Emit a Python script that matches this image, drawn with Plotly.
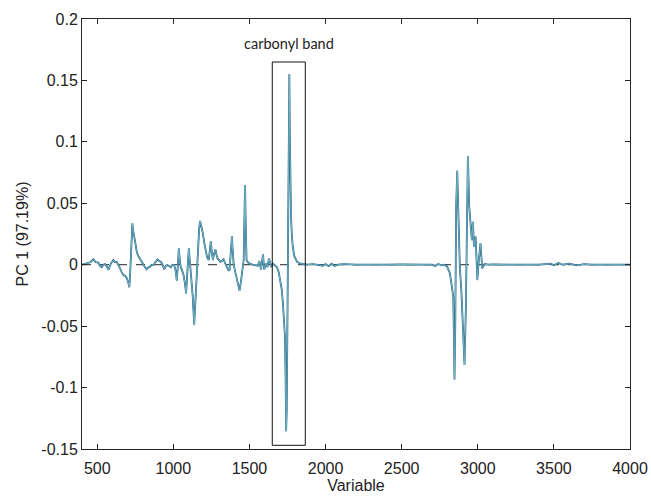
import plotly.graph_objects as go

wavenumber = [400, 431, 455, 475, 490, 507, 518, 529, 540, 551, 562, 573, 590, 606, 617, 628, 640, 650, 661, 672, 683, 694, 703, 711, 716, 720, 726, 731, 736, 742, 750, 760, 770, 782, 792, 803, 814, 825, 836, 847, 858, 869, 882, 896, 907, 918, 929, 940, 950, 961, 972, 983, 994, 1005, 1014, 1023, 1030, 1036, 1042, 1049, 1058, 1067, 1076, 1084, 1093, 1102, 1109, 1117, 1127, 1137, 1143, 1150, 1157, 1163, 1170, 1176, 1185, 1194, 1203, 1211, 1222, 1233, 1240, 1246, 1253, 1260, 1268, 1277, 1284, 1290, 1299, 1308, 1319, 1330, 1341, 1352, 1360, 1369, 1377, 1385, 1390, 1396, 1405, 1413, 1424, 1435, 1444, 1453, 1458, 1462, 1466, 1471, 1476, 1481, 1490, 1505, 1520, 1538, 1555, 1565, 1576, 1589, 1597, 1608, 1618, 1628, 1637, 1645, 1654, 1665, 1681, 1692, 1703, 1712, 1720, 1729, 1734, 1738, 1741, 1745, 1749, 1752, 1756, 1759, 1762, 1765, 1768, 1773, 1778, 1785, 1795, 1812, 1830, 1856, 1880, 1920, 1950, 1980, 2000, 2020, 2040, 2060, 2080, 2120, 2200, 2300, 2400, 2500, 2600, 2650, 2700, 2720, 2740, 2760, 2780, 2799, 2817, 2832, 2839, 2843, 2847, 2852, 2858, 2865, 2872, 2882, 2893, 2904, 2913, 2922, 2931, 2935, 2944, 2953, 2961, 2968, 2975, 2986, 2997, 3007, 3018, 3029, 3045, 3070, 3100, 3200, 3300, 3400, 3480, 3500, 3530, 3560, 3600, 3650, 3700, 3750, 3850, 4000]
pc1 = [0.000, 0.001, 0.002, 0.0044, 0.002, 0.0017, -0.001, -0.002, 0.000, 0.0006, -0.001, -0.0043, 0.001, 0.0038, 0.002, 0.0024, 0.000, -0.003, -0.006, -0.0084, -0.009, -0.011, -0.014, -0.0184, -0.008, 0.0008, 0.020, 0.0337, 0.028, 0.0234, 0.016, 0.0106, 0.007, 0.0044, 0.002, 0.0008, -0.002, -0.0038, -0.002, -0.0016, 0.000, -0.0003, 0.002, 0.0044, 0.003, 0.0024, 0.000, -0.0038, -0.001, -0.0003, -0.001, -0.002, 0.000, -0.0003, -0.004, -0.0130, 0.000, 0.0133, 0.004, -0.002, -0.005, -0.0084, -0.015, -0.0233, -0.004, 0.0133, 0.002, -0.0097, -0.025, -0.0491, -0.035, -0.0206, 0.000, 0.0185, 0.030, 0.0356, 0.031, 0.0255, 0.018, 0.0114, 0.006, 0.0038, 0.012, 0.0193, 0.010, 0.0038, 0.009, 0.0125, 0.008, 0.0052, 0.004, 0.0024, 0.003, 0.0044, 0.001, -0.003, -0.004, -0.0049, 0.008, 0.0234, 0.012, 0.0008, -0.005, -0.0097, -0.015, -0.0211, -0.014, -0.0070, 0.000, 0.0038, 0.030, 0.0649, 0.030, 0.0038, 0.002, 0.0006, 0.000, -0.0003, -0.0008, 0.003, -0.004, 0.0084, -0.004, 0.001, -0.002, 0.005, 0.002, -0.002, 0.001, 0.000, -0.002, -0.006, -0.0125, -0.020, -0.0314, -0.0477, -0.060, -0.0966, -0.1355, -0.118, -0.040, 0.044, 0.045, 0.100, 0.155, 0.107, 0.046, 0.040, 0.025, 0.014, 0.007, 0.0025, 0.001, 0.0005, 0.000, 0.0005, 0.000, -0.0008, 0.0005, -0.0012, 0.0008, -0.001, 0.000, 0.0005, 0.000, 0.0003, 0.000, 0.0002, -0.0003, 0.000, 0.000, -0.001, 0.0006, -0.0005, 0.000, -0.0016, -0.007, -0.0206, -0.026, -0.056, -0.0935, -0.050, 0.0472, 0.0765, 0.0445, -0.0016, -0.0233, -0.0557, -0.0816, -0.034, 0.0744, 0.0885, 0.0472, 0.031, 0.020, 0.035, 0.0147, 0.023, -0.0125, 0.0038, 0.0174, -0.003, 0.0006, 0.000, 0.0003, 0.000, -0.0003, 0.000, 0.0008, -0.0005, 0.0015, 0.000, 0.0008, -0.0006, 0.0004, 0.000, 0.000, 0.000]

x_range = [400, 4000]
y_range = [-0.15, 0.2]
x_ticks = [500, 1000, 1500, 2000, 2500, 3000, 3500, 4000]
y_ticks = [-0.15, -0.1, -0.05, 0, 0.05, 0.1, 0.15, 0.2]
y_ticklabels = ["-0.15", "-0.1", "-0.05", "0", "0.05", "0.1", "0.15", "0.2"]
band_box = {"x0": 1650, "x1": 1867, "y0": -0.147, "y1": 0.165}
band_label = "carbonyl band"

fig = go.Figure()
fig.add_trace(go.Scatter(x=x_range, y=[0, 0], mode="lines",
                         line=dict(color="#222222", width=1, dash="dash"),
                         showlegend=False, hoverinfo="skip"))
fig.add_trace(go.Scatter(x=wavenumber, y=pc1, mode="lines",
                         line=dict(color="#1f5f85", width=1.8),
                         showlegend=False))
fig.add_trace(go.Scatter(x=wavenumber, y=pc1, mode="lines",
                         line=dict(color="#74b3c1", width=1.0),
                         showlegend=False))

fig.add_shape(type="rect", xref="x", yref="y",
              x0=band_box["x0"], x1=band_box["x1"], y0=band_box["y0"], y1=band_box["y1"],
              line=dict(color="#111111", width=1))
fig.add_annotation(x=(band_box["x0"] + band_box["x1"]) / 2, y=band_box["y1"],
                   xref="x", yref="y", text=band_label, showarrow=False,
                   yanchor="bottom", yshift=8,
                   font=dict(family="Lato", size=14.5, color="#222222"))

axis_common = dict(showline=True, linecolor="#262626", linewidth=1, mirror="allticks",
                   ticks="inside", ticklen=5, tickcolor="#262626", showgrid=False,
                   zeroline=False, automargin=False,
                   tickfont=dict(family="Liberation Sans", size=16, color="#222222"))

fig.update_layout(
    width=651, height=498,
    margin=dict(l=82, r=21, t=19, b=49),
    plot_bgcolor="white", paper_bgcolor="white",
    xaxis=dict(range=x_range, tickvals=x_ticks, ticklabelstandoff=5, **axis_common,
               title=dict(text="Variable", standoff=0,
                          font=dict(family="Liberation Sans", size=16, color="#222222"))),
    yaxis=dict(range=y_range, tickvals=y_ticks, ticktext=y_ticklabels, **axis_common,
               title=dict(text="PC 1 (97.19%)", standoff=8,
                          font=dict(family="Liberation Sans", size=16, color="#222222"))),
)

fig.write_html("out.html")
